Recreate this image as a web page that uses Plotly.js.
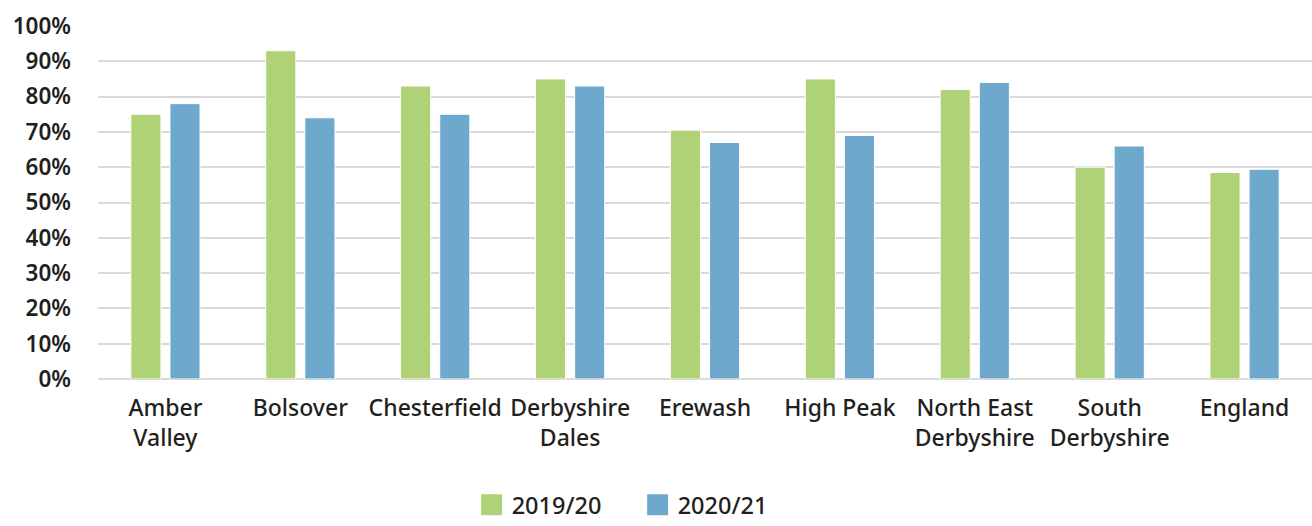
<!DOCTYPE html>
<html>
<head>
<meta charset="utf-8">
<script src="https://cdn.plot.ly/plotly-3.0.1.min.js"></script>
<style>html,body{margin:0;padding:0;background:#fff;}#chart{width:1312px;height:526px;}</style>
</head>
<body>
<div id="chart"></div>
<script>
const categories = ["Amber<br>Valley", "Bolsover", "Chesterfield", "Derbyshire<br>Dales", "Erewash", "High Peak", "North East<br>Derbyshire", "South<br>Derbyshire", "England"];
const seriesNames = ["2019/20", "2020/21"];
const values2019 = [75, 93, 83, 85, 70.5, 85, 82, 60, 58.5];
const values2020 = [78, 74, 75, 83, 67, 69, 84, 66, 59.4];
const yTickVals = [0, 10, 20, 30, 40, 50, 60, 70, 80, 90, 100];
const yTickText = ["0%", "10%", "20%", "30%", "40%", "50%", "60%", "70%", "80%", "90%", "100%"];

const colors = ["#B0D276", "#6EA9CD"];
const font = "'Noto Sans', 'Open Sans', sans-serif";

const traces = [values2019, values2020].map((v, i) => ({
  type: "bar",
  name: seriesNames[i],
  x: categories,
  y: v,
  marker: {color: colors[i], line: {color: "#ffffff", width: 1}},
  showlegend: false,
  legendgroup: seriesNames[i],
  hoverinfo: "x+y"
}));

// legend entries with larger square swatches
seriesNames.forEach((n, i) => {
  traces.push({
    type: "scatter",
    mode: "markers",
    name: n,
    x: [null],
    y: [null],
    legendgroup: n,
    marker: {symbol: "square", size: 16, color: colors[i], line: {color: colors[i], width: 5}},
    showlegend: true
  });
});

const layout = {
  width: 1312,
  height: 526,
  margin: {l: 98, r: 0, t: 26, b: 147},
  paper_bgcolor: "#ffffff",
  plot_bgcolor: "#ffffff",
  barmode: "group",
  bargap: 0.42,
  bargroupgap: 0.23,
  font: {family: font, color: "#231f20"},
  xaxis: {
    tickfont: {size: 23, family: font, color: "#231f20", weight: 500},
    showgrid: false,
    zeroline: false,
    showline: false,
    ticks: "",
    ticklabelstandoff: 13,
    fixedrange: true,
    automargin: false
  },
  yaxis: {
    range: [0, 100],
    tickmode: "array",
    tickvals: yTickVals,
    ticktext: yTickText,
    tickfont: {size: 22.5, family: font, color: "#231f20", weight: 600},
    showgrid: true,
    gridcolor: "#d9d9d9",
    gridwidth: 2,
    zeroline: true,
    zerolinecolor: "#d9d9d9",
    zerolinewidth: 2,
    showline: false,
    ticks: "",
    ticklabelstandoff: 26,
    fixedrange: true,
    automargin: false
  },
  legend: {
    orientation: "h",
    x: 0.486,
    xref: "container",
    xanchor: "center",
    y: 0.04,
    yref: "container",
    yanchor: "middle",
    font: {size: 23.5, family: font, color: "#231f20", weight: 500},
    itemwidth: 30,
    entrywidth: 121,
    traceorder: "normal"
  },
  showlegend: true
};

Plotly.newPlot("chart", traces, layout, {displayModeBar: false, staticPlot: true});
</script>
</body>
</html>
